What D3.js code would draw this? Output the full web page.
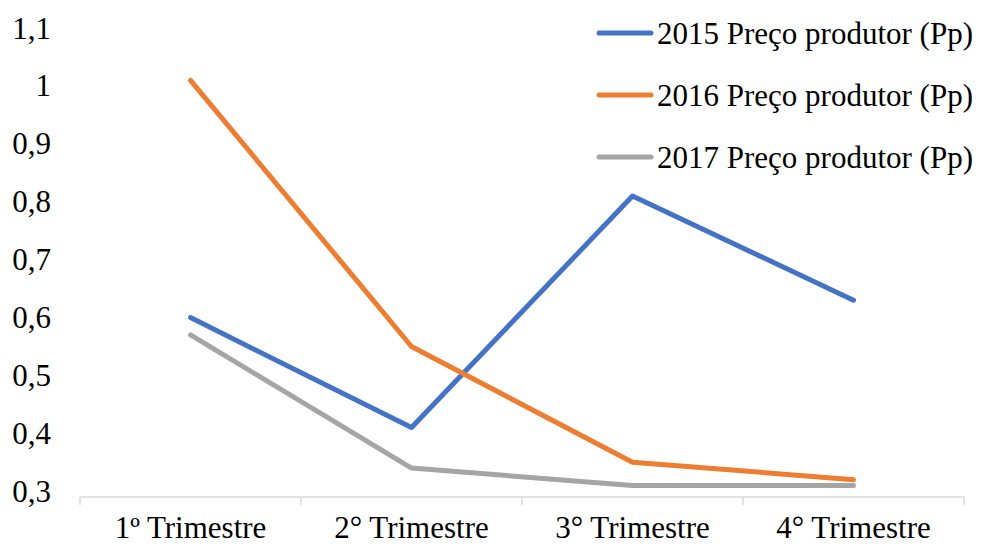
<!DOCTYPE html>
<html>
<head>
<meta charset="utf-8">
<script src="https://cdn.jsdelivr.net/npm/d3@7/dist/d3.min.js"></script>
<style>
  html, body { margin: 0; padding: 0; background: #fff; }
  svg { display: block; font-family: "Liberation Serif", "Times New Roman", serif; }
</style>
</head>
<body>
<svg id="chart" width="984" height="545"></svg>
<script>
// Quarterly producer price (Pp) by year
const quarters = ["1º Trimestre", "2° Trimestre", "3° Trimestre", "4° Trimestre"];
const seriesNames = ["2015 Preço produtor (Pp)", "2016 Preço produtor (Pp)", "2017 Preço produtor (Pp)"];
const values2015 = [0.61, 0.42, 0.82, 0.64];
const values2016 = [1.02, 0.56, 0.36, 0.33];
const values2017 = [0.58, 0.35, 0.32, 0.32];
const yTicks = [0.3, 0.4, 0.5, 0.6, 0.7, 0.8, 0.9, 1.0, 1.1];
const colors = ["#4472C4", "#ED7D31", "#A5A5A5"];

const series = [values2015, values2016, values2017].map((vals, i) => ({
  name: seriesNames[i], values: vals, color: colors[i]
}));

const svg = d3.select("#chart");
const fontSize = 31;

const x = d3.scaleBand().domain(quarters).range([80, 964]);
const y = d3.scaleLinear().domain([0.3, 1.1]).range([497, 34]);

const fmt = v => d3.format(".1~f")(v).replace(".", ",");

// Y axis labels (no axis line, no gridlines)
const yAxis = d3.axisLeft(y).tickValues(yTicks).tickFormat(fmt).tickSize(0).tickPadding(0);
const gy = svg.append("g").attr("transform", "translate(51,0)").call(yAxis);
gy.select(".domain").remove();
gy.selectAll("text")
  .attr("font-family", "Liberation Serif, serif")
  .attr("font-size", fontSize)
  .attr("fill", "#000")
  .attr("dy", null)
  .attr("y", 4)
  .attr("text-anchor", "end");

// X axis: light baseline with ticks at category boundaries
const gx = svg.append("g").attr("transform", "translate(0,497)");
gx.append("line")
  .attr("x1", x.range()[0]).attr("x2", x.range()[1])
  .attr("y1", 0).attr("y2", 0)
  .attr("stroke", "#d9d9d9").attr("stroke-width", 1.5);
const bounds = quarters.map(q => x(q)).concat([x(quarters[quarters.length - 1]) + x.bandwidth()]);
gx.selectAll("line.tick")
  .data(bounds)
  .join("line")
  .attr("class", "tick")
  .attr("x1", d => d).attr("x2", d => d)
  .attr("y1", 0).attr("y2", 8)
  .attr("stroke", "#d9d9d9").attr("stroke-width", 1.5);
gx.selectAll("text.cat")
  .data(quarters)
  .join("text")
  .attr("class", "cat")
  .attr("x", d => x(d) + x.bandwidth() / 2)
  .attr("y", 41)
  .attr("text-anchor", "middle")
  .attr("font-size", fontSize)
  .attr("fill", "#000")
  .text(d => d);

// Lines
const line = d3.line()
  .x((d, i) => x(quarters[i]) + x.bandwidth() / 2)
  .y(d => y(d));

svg.append("g").selectAll("path")
  .data(series)
  .join("path")
  .attr("d", d => line(d.values))
  .attr("fill", "none")
  .attr("stroke", d => d.color)
  .attr("stroke-width", 5)
  .attr("stroke-linecap", "round")
  .attr("stroke-linejoin", "round");

// Legend
const legend = svg.append("g").attr("transform", "translate(599,33)");
const item = legend.selectAll("g")
  .data(series)
  .join("g")
  .attr("transform", (d, i) => `translate(0,${i * 62})`);
item.append("line")
  .attr("x1", 0).attr("x2", 52)
  .attr("y1", 0).attr("y2", 0)
  .attr("stroke", d => d.color)
  .attr("stroke-width", 5)
  .attr("stroke-linecap", "round");
item.append("text")
  .attr("x", 58)
  .attr("y", 11)
  .attr("font-size", fontSize)
  .attr("fill", "#000")
  .text(d => d.name);
</script>
</body>
</html>
